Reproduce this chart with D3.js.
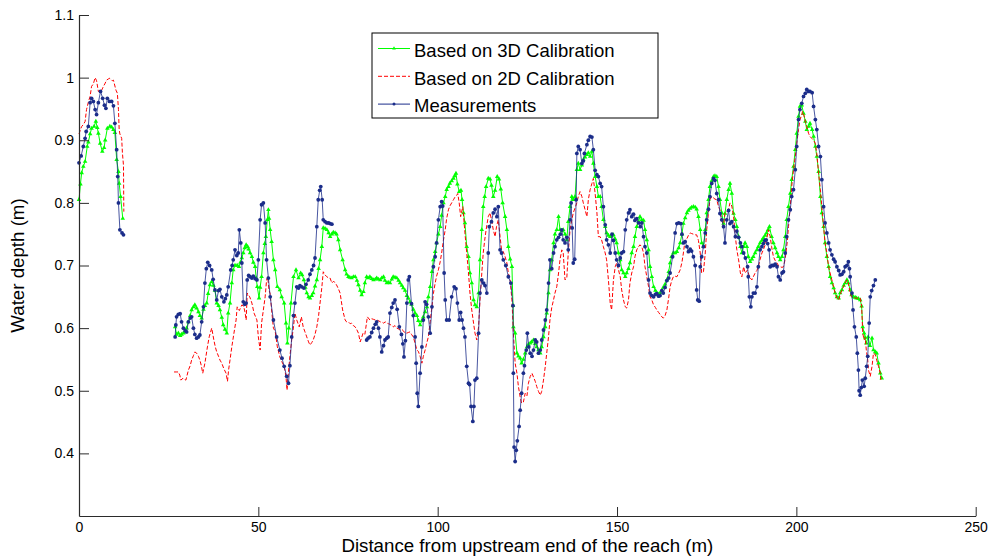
<!DOCTYPE html>
<html>
<head>
<meta charset="utf-8">
<script src="https://cdn.jsdelivr.net/npm/d3@7"></script>
<style>
  html, body { margin: 0; padding: 0; background: #fff; }
  svg { display: block; }
  text { font-family: "Liberation Sans", Arial, Helvetica, sans-serif; fill: #000; }
</style>
</head>
<body>
<svg id="chart" width="988" height="559"></svg>
<script>
// Water depth along the reach: measured profile and two model calibrations.
// A null entry marks a break in the line (no data over that stretch).

const seriesNames = ["Based on 3D Calibration", "Based on 2D Calibration", "Measurements"];
const xTicks = [0, 50, 100, 150, 200, 250];
const yTicks = [0.4, 0.5, 0.6, 0.7, 0.8, 0.9, 1.0, 1.1];
const yTickLabels = ["0.4", "0.5", "0.6", "0.7", "0.8", "0.9", "1", "1.1"];

const measX = [0,0.6,1.2,1.7,2.0,2.6,3.1,3.5,4.0,4.5,4.9,5.4,6.0,6.6,7.1,7.5,7.9,8.5,9.1,9.6,10.0,10.5,10.8,11.0,11.4,12.0,12.4,
null,
26.8,27.0,27.2,27.7,28.2,28.6,29.1,29.6,30.0,30.5,31.0,31.4,31.9,32.3,32.8,33.3,33.7,34.2,34.7,35.1,35.5,35.9,36.4,37.0,37.4,37.9,38.4,38.9,39.3,39.8,40.4,40.8,41.2,41.6,42.3,42.7,43.0,43.5,44.0,44.4,44.7,45.1,45.4,45.8,46.2,46.6,46.9,47.3,47.7,48.2,48.6,49.1,49.6,50.0,50.5,50.9,51.4,51.9,52.3,52.8,53.3,54.2,55.1,56.0,56.6,57.2,57.9,58.4,58.8,59.3,59.8,60.2,60.7,61.2,61.6,62.1,62.7,63.3,63.9,64.4,64.9,65.4,65.8,66.3,66.7,67.1,67.4,67.8,68.1,68.6,69.1,69.6,70.0,70.5,
null,
80.2,80.6,81.1,81.6,82.1,82.6,83.0,83.5,83.9,84.4,84.9,85.3,85.8,86.2,86.7,87.2,87.6,88.1,88.7,89.3,89.9,90.3,90.6,91.0,91.4,91.8,92.1,92.7,93.2,93.7,94.0,94.3,94.6,95.1,95.6,96.0,96.5,96.9,97.4,97.9,98.4,98.8,99.3,99.7,100.2,100.7,101.1,101.4,101.8,102.1,102.5,103.2,103.9,104.6,105.1,105.5,106.0,106.4,106.8,107.2,107.6,108.1,108.6,108.9,109.3,109.8,110.1,110.4,110.9,111.4,111.8,112.3,112.8,113.2,113.7,114.1,114.4,115.0,115.5,116.0,116.5,116.9,117.4,117.8,118.3,119.0,119.7,120.4,121.0,121.1,121.3,121.6,121.9,122.2,122.7,123.0,123.4,123.9,124.2,124.7,125.0,125.4,125.8,126.3,126.7,127.2,127.6,128.1,128.6,129.0,129.5,130.0,130.4,130.9,131.3,131.8,132.3,132.7,133.2,133.7,134.2,134.6,135.0,135.5,136.0,136.4,136.9,137.2,137.5,137.8,138.2,138.6,138.8,139.2,139.7,140.2,140.6,140.9,141.6,142.0,142.5,143.0,143.4,143.9,144.4,144.8,145.3,145.7,146.2,146.7,147.1,147.6,148.1,148.6,149.0,149.5,149.9,150.4,150.9,151.3,151.8,152.3,152.7,153.2,153.6,154.1,154.6,155.0,155.5,156.0,156.5,156.9,157.4,157.8,158.3,158.8,159.2,159.7,160.2,160.7,161.1,161.6,162.0,162.5,162.9,163.4,163.9,164.4,164.8,165.5,166.2,166.7,167.2,167.8,168.1,168.5,169.0,169.5,169.9,170.4,170.8,171.3,171.8,172.2,172.5,172.9,173.2,173.6,174.1,174.6,175.0,175.5,175.9,176.4,176.9,177.3,177.8,178.3,178.7,179.2,179.7,180.1,180.6,181.1,181.5,182.0,182.5,183.0,183.4,183.9,184.4,184.8,185.3,185.8,186.4,186.6,186.9,187.3,187.6,188.0,188.5,189.0,189.4,189.9,190.4,190.8,191.2,191.6,192.0,192.4,192.7,193.2,193.6,194.1,194.6,195.0,195.5,196.0,196.4,196.9,197.3,197.8,198.3,198.7,199.2,199.7,200.1,200.6,201.0,201.5,202.0,202.5,202.9,203.4,203.8,204.4,204.8,205.3,205.7,206.2,206.7,207.1,207.6,208.0,208.5,209.0,209.4,209.9,210.4,210.8,211.3,211.8,212.2,212.7,213.2,213.6,214.1,214.5,214.8,215.0,215.5,215.8,216.2,216.7,217.0,217.3,217.5,217.8,218.1,218.4,218.9,219.2,219.6,219.9,220.3,220.6,221.0,221.5,222.0];
const measY = [0.864,0.875,0.89,0.903,0.914,0.922,0.96,0.967,0.962,0.949,0.941,0.96,0.978,0.967,0.956,0.951,0.967,0.962,0.962,0.955,0.927,0.885,0.842,0.80,0.757,0.752,0.749,
null,
0.586,0.605,0.618,0.622,0.623,0.61,0.60,0.596,0.594,0.61,0.616,0.618,0.60,0.59,0.584,0.586,0.589,0.61,0.634,0.672,0.695,0.705,0.70,0.693,0.678,0.661,0.645,0.66,0.662,0.65,0.642,0.647,0.653,0.666,0.693,0.70,0.709,0.725,0.716,0.72,0.757,0.736,0.704,0.642,0.638,0.64,0.677,0.684,0.682,0.68,0.683,0.679,0.677,0.709,0.773,0.797,0.80,0.768,0.709,0.68,0.65,0.613,0.586,0.565,0.552,0.539,0.523,0.512,0.54,0.586,0.62,0.64,0.666,0.664,0.668,0.666,0.664,0.67,0.677,0.686,0.693,0.70,0.712,0.762,0.805,0.82,0.826,0.805,0.773,0.77,0.768,0.768,0.767,0.766,
null,
0.581,0.584,0.586,0.593,0.60,0.606,0.61,0.60,0.586,0.562,0.572,0.581,0.584,0.586,0.624,0.633,0.64,0.645,0.63,0.602,0.59,0.575,0.554,0.58,0.64,0.677,0.682,0.639,0.62,0.586,0.544,0.496,0.475,0.528,0.57,0.613,0.642,0.638,0.618,0.592,0.634,0.698,0.714,0.736,0.773,0.794,0.802,0.795,0.688,0.645,0.613,0.613,0.65,0.666,0.663,0.64,0.613,0.625,0.613,0.60,0.586,0.539,0.512,0.51,0.475,0.451,0.475,0.517,0.52,0.592,0.656,0.677,0.672,0.668,0.656,0.72,0.762,0.77,0.784,0.79,0.778,0.794,0.725,0.72,0.709,0.70,0.682,0.672,0.636,0.528,0.41,0.387,0.405,0.42,0.443,0.469,0.496,0.528,0.54,0.565,0.592,0.57,0.56,0.555,0.565,0.581,0.578,0.56,0.565,0.581,0.597,0.613,0.629,0.672,0.709,0.695,0.72,0.73,0.741,0.745,0.75,0.757,0.741,0.736,0.745,0.725,0.773,0.80,0.76,0.704,0.71,0.805,0.879,0.89,0.885,0.863,0.867,0.879,0.893,0.90,0.906,0.905,0.885,0.852,0.845,0.842,0.831,0.826,0.794,0.765,0.741,0.733,0.72,0.75,0.74,0.72,0.709,0.70,0.712,0.72,0.722,0.757,0.773,0.784,0.789,0.778,0.782,0.772,0.775,0.768,0.762,0.768,0.746,0.73,0.72,0.677,0.656,0.652,0.65,0.654,0.655,0.651,0.652,0.66,0.656,0.665,0.676,0.68,0.688,0.714,0.752,0.767,0.768,0.767,0.75,0.736,0.738,0.73,0.722,0.726,0.723,0.714,0.70,0.661,0.645,0.643,0.698,0.714,0.73,0.752,0.773,0.79,0.81,0.831,0.839,0.836,0.815,0.805,0.783,0.773,0.762,0.736,0.773,0.788,0.767,0.77,0.762,0.746,0.755,0.745,0.736,0.73,0.72,0.712,0.698,0.682,0.65,0.634,0.65,0.656,0.656,0.666,0.698,0.725,0.73,0.735,0.74,0.741,0.735,0.725,0.698,0.70,0.70,0.702,0.698,0.682,0.677,0.688,0.69,0.72,0.746,0.773,0.789,0.81,0.821,0.853,0.89,0.933,0.949,0.959,0.97,0.975,0.981,0.978,0.978,0.976,0.954,0.933,0.917,0.89,0.874,0.837,0.794,0.768,0.752,0.736,0.725,0.717,0.71,0.706,0.698,0.692,0.685,0.686,0.69,0.698,0.70,0.706,0.695,0.682,0.656,0.629,0.602,0.586,0.56,0.533,0.50,0.493,0.505,0.517,0.507,0.52,0.539,0.555,0.608,0.65,0.66,0.668,0.677];

const cal3dX = [0,0.4,0.75,1.2,1.7,2.3,2.6,3.1,3.5,4.2,4.7,5.1,5.4,5.9,6.5,7.0,7.3,7.9,8.6,9.1,9.6,10.0,10.5,11.0,11.2,11.6,12.2,
null,
26.8,27.2,27.7,28.2,28.6,29.1,29.6,30.0,30.5,31.0,31.4,31.9,32.3,32.8,33.3,33.7,34.2,34.7,35.1,35.6,36.0,36.5,37.0,37.5,37.9,38.4,38.9,39.3,39.8,40.2,40.7,41.2,41.6,42.1,42.6,43.0,43.5,44.1,44.6,45.0,45.4,45.8,46.2,46.6,47.0,47.3,47.7,48.2,48.6,49.1,49.4,49.7,50.2,50.5,50.9,51.4,51.8,52.1,52.5,52.8,53.0,53.3,53.7,54.2,54.7,55.3,56.0,56.5,57.2,57.7,58.1,58.5,59.1,59.8,60.5,61.2,61.8,62.2,62.7,63.1,63.5,64.0,64.4,64.9,65.3,65.8,66.3,66.8,67.2,67.7,68.1,68.6,69.1,69.6,70.0,70.5,70.9,71.4,71.8,72.3,72.8,73.5,74.2,74.6,75.1,75.5,76.0,76.5,77.0,77.5,77.9,78.4,78.8,79.3,79.7,80.2,80.6,81.1,81.6,82.1,82.6,83.0,83.5,84.0,84.4,84.9,85.3,85.8,86.2,86.7,87.2,87.6,88.1,88.6,89.1,89.5,90.0,90.4,90.9,91.4,91.8,92.3,92.7,93.2,93.7,94.2,94.6,95.1,95.6,96.0,96.5,97.0,97.4,97.9,98.4,98.8,99.3,99.7,100.2,100.7,101.1,101.6,102.1,102.5,103.0,103.4,103.9,104.4,104.7,105.1,105.5,106.0,106.5,106.8,107.2,107.6,108.1,108.6,109.0,109.5,110.0,110.4,110.9,111.4,111.8,112.3,112.7,113.1,113.5,114.1,114.6,115.0,115.5,116.0,116.6,117.1,117.6,118.1,118.8,119.3,119.7,120.2,120.7,121.0,121.1,121.6,122.1,122.5,123.0,123.4,123.9,124.4,124.9,125.3,125.8,126.2,126.7,127.2,127.6,128.1,128.6,129.0,129.5,130.0,130.4,130.9,131.3,131.8,132.3,132.7,133.2,133.7,134.1,134.6,135.0,135.5,136.0,136.4,136.9,137.4,137.8,138.3,138.8,139.2,139.7,140.2,140.6,141.1,141.6,142.0,142.5,143.0,143.4,143.9,144.4,144.8,145.3,145.7,146.2,146.7,147.1,147.6,148.1,148.5,149.0,149.5,149.9,150.4,150.9,151.3,151.8,152.3,152.7,153.2,153.6,154.1,154.6,155.0,155.5,156.0,156.4,156.9,157.4,157.8,158.3,158.8,159.2,159.7,160.2,160.7,161.1,161.6,162.0,162.5,162.9,163.4,163.9,164.4,164.8,165.2,165.7,166.2,166.7,167.2,167.6,168.1,168.5,169.0,169.5,169.9,170.4,170.8,171.3,171.8,172.2,172.7,173.2,173.6,174.1,174.6,175.0,175.5,175.9,176.4,176.9,177.3,177.8,178.3,178.7,179.2,179.7,180.1,180.6,181.1,181.5,182.0,182.5,183.0,183.4,183.9,184.4,184.8,185.3,185.7,186.2,186.6,187.1,187.6,188.0,188.5,189.0,189.4,189.9,190.4,190.8,191.3,191.7,192.1,192.5,193.1,193.6,194.1,194.6,195.0,195.5,196.0,196.4,196.9,197.3,197.8,198.3,198.7,199.2,199.7,200.1,200.6,201.0,201.5,202.0,202.5,202.9,203.4,203.8,204.4,204.8,205.3,205.7,206.2,206.7,207.1,207.6,208.0,208.5,209.0,209.4,209.9,210.4,210.8,211.3,211.8,212.2,212.7,213.2,213.6,214.1,214.5,215.0,215.4,215.9,216.4,216.8,217.3,217.8,218.2,218.5,218.9,219.2,219.5,220.0,220.5,221.1,221.5,222.0,222.4,222.9,223.4,223.8];
const cal3dY = [0.805,0.83,0.848,0.858,0.866,0.89,0.897,0.91,0.919,0.922,0.93,0.92,0.911,0.895,0.882,0.888,0.90,0.919,0.922,0.921,0.917,0.912,0.869,0.85,0.831,0.81,0.775,
null,
0.602,0.59,0.592,0.588,0.59,0.592,0.594,0.60,0.61,0.62,0.629,0.634,0.637,0.632,0.626,0.62,0.616,0.63,0.636,0.64,0.655,0.669,0.674,0.668,0.66,0.64,0.636,0.629,0.617,0.605,0.598,0.592,0.624,0.64,0.672,0.693,0.70,0.70,0.698,0.705,0.712,0.72,0.728,0.733,0.73,0.726,0.72,0.714,0.705,0.698,0.68,0.666,0.648,0.665,0.682,0.72,0.735,0.746,0.773,0.789,0.775,0.757,0.738,0.709,0.693,0.666,0.661,0.65,0.64,0.608,0.576,0.60,0.64,0.682,0.693,0.68,0.688,0.685,0.677,0.665,0.656,0.65,0.648,0.652,0.656,0.667,0.677,0.695,0.709,0.73,0.76,0.759,0.757,0.752,0.746,0.75,0.753,0.752,0.75,0.741,0.725,0.709,0.693,0.686,0.682,0.681,0.68,0.682,0.682,0.676,0.669,0.66,0.653,0.658,0.672,0.682,0.68,0.682,0.679,0.677,0.678,0.68,0.678,0.677,0.68,0.682,0.676,0.672,0.673,0.672,0.678,0.682,0.681,0.68,0.676,0.672,0.668,0.664,0.66,0.652,0.648,0.642,0.638,0.63,0.624,0.62,0.612,0.605,0.612,0.618,0.626,0.634,0.65,0.666,0.69,0.709,0.722,0.736,0.75,0.762,0.78,0.80,0.81,0.821,0.826,0.831,0.835,0.839,0.843,0.847,0.83,0.818,0.82,0.805,0.784,0.768,0.73,0.714,0.688,0.672,0.645,0.637,0.634,0.656,0.709,0.757,0.794,0.81,0.826,0.839,0.838,0.828,0.81,0.82,0.842,0.838,0.822,0.80,0.778,0.757,0.73,0.71,0.698,0.636,0.602,0.592,0.56,0.555,0.552,0.544,0.55,0.56,0.57,0.574,0.576,0.578,0.581,0.575,0.57,0.565,0.56,0.57,0.586,0.602,0.624,0.656,0.693,0.709,0.736,0.75,0.757,0.778,0.757,0.755,0.757,0.75,0.741,0.77,0.794,0.81,0.805,0.81,0.853,0.863,0.853,0.86,0.869,0.873,0.877,0.88,0.874,0.882,0.863,0.842,0.826,0.81,0.81,0.794,0.773,0.762,0.752,0.748,0.746,0.748,0.749,0.742,0.736,0.72,0.709,0.693,0.688,0.682,0.688,0.695,0.704,0.72,0.73,0.746,0.762,0.77,0.778,0.773,0.772,0.757,0.741,0.725,0.698,0.682,0.666,0.66,0.656,0.654,0.656,0.66,0.665,0.67,0.677,0.69,0.704,0.714,0.72,0.72,0.722,0.728,0.736,0.75,0.767,0.776,0.784,0.788,0.791,0.793,0.794,0.793,0.79,0.778,0.757,0.736,0.73,0.757,0.784,0.805,0.826,0.835,0.842,0.843,0.842,0.826,0.805,0.784,0.767,0.783,0.805,0.821,0.831,0.815,0.783,0.773,0.762,0.746,0.73,0.72,0.73,0.736,0.73,0.714,0.706,0.71,0.714,0.72,0.725,0.73,0.736,0.74,0.744,0.748,0.752,0.757,0.762,0.746,0.736,0.728,0.72,0.714,0.709,0.714,0.725,0.746,0.773,0.794,0.815,0.837,0.858,0.885,0.911,0.938,0.954,0.956,0.943,0.93,0.917,0.922,0.927,0.917,0.906,0.89,0.874,0.85,0.81,0.784,0.762,0.736,0.714,0.698,0.682,0.672,0.664,0.656,0.65,0.648,0.656,0.661,0.668,0.672,0.677,0.672,0.661,0.653,0.65,0.649,0.648,0.647,0.645,0.635,0.602,0.592,0.585,0.576,0.586,0.572,0.584,0.565,0.562,0.56,0.544,0.528,0.52];

const cal2dX = [0,0.4,0.75,1.2,1.7,2.1,2.7,3.1,3.5,4.0,4.5,4.9,5.4,5.8,6.1,6.5,6.8,7.2,7.7,8.2,8.6,9.3,9.6,10.3,10.7,11.0,11.2,11.4,11.9,12.1,12.4,12.5,
null,
26.5,27.1,27.7,28.1,28.4,29.0,29.4,29.8,30.5,31.0,31.4,31.9,32.3,32.8,33.3,33.7,34.1,34.5,35.1,35.8,36.3,37.0,37.6,38.0,38.4,38.9,39.3,39.8,40.4,41.0,41.4,41.7,42.1,42.6,43.2,43.8,44.1,44.7,45.4,45.9,46.3,46.6,46.9,47.6,48.2,48.8,49.6,50.0,50.5,50.9,51.4,51.9,52.3,52.6,53.0,53.3,53.7,54.2,54.7,55.3,56.0,56.5,57.2,57.7,58.0,58.4,58.8,59.3,59.8,60.2,60.7,61.4,62.0,62.5,63.0,63.5,64.0,64.4,64.9,65.3,65.8,66.3,66.8,67.2,67.7,68.1,68.6,69.1,69.6,70.0,70.5,71.0,71.4,71.8,72.3,72.8,73.5,74.2,74.6,75.1,75.6,76.0,76.5,77.0,77.5,77.9,78.4,78.8,79.2,79.7,80.4,81.1,81.6,82.1,82.6,83.0,83.5,84.0,84.4,84.9,85.4,85.8,86.3,86.7,87.2,87.6,88.1,88.6,89.0,89.5,90.0,90.4,90.9,91.4,91.8,92.3,92.7,93.2,93.7,94.2,94.6,95.1,95.6,96.0,96.5,96.9,97.4,97.9,98.4,98.8,99.3,99.7,100.2,100.7,101.1,101.6,102.1,102.5,103.0,103.4,103.9,104.4,104.9,105.3,105.6,106.0,106.4,107.0,107.6,108.1,108.6,109.0,109.5,110.0,110.4,110.9,111.4,111.8,112.3,112.7,113.1,113.5,114.1,114.6,115.0,115.5,116.0,116.4,116.9,117.4,117.8,118.3,118.8,119.3,119.7,120.2,120.7,121.1,121.6,122.1,122.5,123.0,123.4,123.9,124.4,124.9,125.3,125.8,126.3,126.7,127.2,127.6,128.1,128.6,129.0,129.5,130.0,130.4,130.9,131.3,131.8,132.3,132.7,133.2,133.7,134.1,134.6,135.0,135.5,136.0,136.4,136.9,137.4,137.8,138.3,138.8,139.2,139.7,140.2,140.6,141.1,141.6,142.0,142.5,143.0,143.4,143.9,144.4,144.8,145.3,145.7,146.2,146.7,147.1,147.6,148.1,148.5,149.0,149.5,149.9,150.4,150.9,151.3,151.8,152.3,152.7,153.2,153.6,154.1,154.6,155.0,155.5,156.0,156.4,156.9,157.4,157.8,158.3,158.8,159.2,159.7,160.2,160.7,161.1,161.6,162.0,162.5,162.9,163.4,163.9,164.4,164.8,165.2,165.7,166.2,166.7,167.2,167.6,168.1,168.5,169.0,169.5,169.9,170.4,170.8,171.3,171.8,172.2,172.7,173.2,173.6,174.1,174.6,175.0,175.5,175.9,176.4,176.9,177.3,177.8,178.3,178.7,179.2,179.7,180.1,180.6,181.1,181.5,182.0,182.5,183.0,183.4,183.9,184.4,184.8,185.3,185.7,186.4,186.9,187.6,188.0,188.5,189.0,189.4,189.9,190.4,190.8,191.3,191.7,192.2,192.7,193.1,193.6,194.1,194.6,195.0,195.5,196.0,196.4,196.8,197.1,197.5,197.8,198.3,198.7,199.2,199.7,200.1,200.6,201.0,201.5,201.7,202.1,202.5,202.9,203.4,203.8,204.3,204.8,205.3,205.7,206.2,206.7,207.1,207.6,208.0,208.5,209.0,209.4,209.9,210.4,210.8,211.3,211.8,212.2,212.7,213.2,213.6,214.1,214.5,215.0,215.4,216.0,216.4,217.1,217.8,218.2,218.5,218.9,219.2,219.5,219.9,220.1,220.6,221.1,221.5,222.0,222.4,222.9,223.4,223.6];
const cal2dY = [0.91,0.917,0.922,0.925,0.93,0.949,0.963,0.97,0.986,0.99,1.0,0.995,0.978,0.976,0.978,0.982,0.986,0.99,0.996,0.998,0.999,0.995,0.996,0.98,0.975,0.949,0.917,0.91,0.903,0.88,0.86,0.786,
null,
0.53,0.53,0.53,0.525,0.517,0.52,0.518,0.517,0.533,0.54,0.549,0.556,0.562,0.56,0.555,0.549,0.54,0.528,0.544,0.57,0.586,0.60,0.581,0.57,0.562,0.555,0.549,0.544,0.535,0.528,0.515,0.533,0.549,0.57,0.592,0.613,0.634,0.628,0.637,0.635,0.625,0.613,0.656,0.65,0.64,0.624,0.613,0.586,0.565,0.608,0.629,0.65,0.677,0.682,0.66,0.655,0.629,0.60,0.595,0.57,0.554,0.547,0.539,0.523,0.501,0.53,0.555,0.581,0.602,0.624,0.613,0.602,0.618,0.602,0.594,0.586,0.578,0.573,0.577,0.581,0.59,0.602,0.62,0.64,0.665,0.69,0.685,0.682,0.68,0.68,0.672,0.675,0.672,0.669,0.663,0.656,0.629,0.613,0.61,0.61,0.607,0.608,0.604,0.602,0.597,0.592,0.578,0.585,0.592,0.59,0.618,0.613,0.615,0.614,0.613,0.613,0.612,0.61,0.61,0.608,0.61,0.608,0.607,0.606,0.604,0.602,0.604,0.60,0.599,0.597,0.598,0.596,0.592,0.592,0.593,0.594,0.59,0.586,0.576,0.565,0.563,0.555,0.544,0.555,0.565,0.575,0.586,0.61,0.634,0.655,0.672,0.683,0.693,0.706,0.72,0.74,0.757,0.775,0.789,0.795,0.80,0.805,0.81,0.812,0.815,0.80,0.778,0.794,0.752,0.72,0.688,0.656,0.629,0.608,0.592,0.581,0.602,0.645,0.688,0.72,0.74,0.757,0.778,0.784,0.773,0.757,0.746,0.762,0.773,0.746,0.725,0.722,0.714,0.704,0.688,0.677,0.645,0.592,0.544,0.528,0.507,0.49,0.48,0.482,0.496,0.492,0.512,0.523,0.528,0.522,0.515,0.507,0.499,0.493,0.499,0.517,0.539,0.56,0.586,0.613,0.633,0.645,0.656,0.666,0.688,0.709,0.725,0.72,0.677,0.68,0.72,0.757,0.773,0.784,0.792,0.80,0.81,0.818,0.81,0.80,0.789,0.778,0.805,0.821,0.831,0.839,0.815,0.784,0.746,0.746,0.741,0.73,0.72,0.709,0.677,0.64,0.629,0.677,0.698,0.704,0.693,0.682,0.661,0.645,0.634,0.632,0.645,0.672,0.688,0.698,0.714,0.725,0.73,0.733,0.73,0.72,0.698,0.682,0.666,0.65,0.645,0.637,0.633,0.629,0.625,0.622,0.618,0.616,0.62,0.629,0.648,0.666,0.675,0.682,0.683,0.682,0.688,0.693,0.705,0.72,0.741,0.743,0.748,0.752,0.751,0.75,0.749,0.749,0.74,0.72,0.688,0.69,0.72,0.757,0.784,0.805,0.81,0.808,0.806,0.805,0.794,0.789,0.773,0.762,0.784,0.786,0.79,0.80,0.795,0.778,0.746,0.725,0.709,0.688,0.682,0.698,0.688,0.693,0.682,0.677,0.682,0.688,0.692,0.698,0.71,0.72,0.725,0.733,0.741,0.757,0.746,0.73,0.714,0.708,0.704,0.70,0.698,0.697,0.698,0.708,0.72,0.74,0.762,0.794,0.826,0.853,0.874,0.895,0.917,0.933,0.94,0.946,0.94,0.93,0.922,0.911,0.906,0.903,0.90,0.895,0.879,0.847,0.821,0.794,0.762,0.736,0.72,0.698,0.688,0.677,0.666,0.656,0.648,0.645,0.653,0.661,0.667,0.672,0.677,0.672,0.656,0.65,0.649,0.648,0.648,0.648,0.635,0.592,0.581,0.585,0.565,0.549,0.533,0.523,0.539,0.56,0.558,0.549,0.539,0.528,0.515];

const colors = { cal3d: "#00ff00", cal2d: "#ff0000", meas: "#1b2d8a" };

const svg = d3.select("#chart");
const plot = { left: 79, right: 975.7, top: 15, bottom: 516 };

const x = d3.scaleLinear().domain([0, 250]).range([plot.left, plot.right]);
const y = d3.scaleLinear().domain([0.3, 1.1]).range([plot.bottom, plot.top]);

function pairs(xs, ys) {
  return xs.map((v, i) => ({ x: v, y: ys[i] }));
}
const cal3d = pairs(cal3dX, cal3dY);
const cal2d = pairs(cal2dX, cal2dY);
const meas = pairs(measX, measY);

const line = d3.line()
  .defined(d => d.x !== null && d.y !== null)
  .x(d => x(d.x))
  .y(d => y(d.y));

const g = svg.append("g");

// 3D calibration: solid green line with small triangle markers
g.append("path")
  .attr("d", line(cal3d))
  .attr("fill", "none")
  .attr("stroke", colors.cal3d)
  .attr("stroke-width", 1);
g.append("g").selectAll("path")
  .data(cal3d.filter(d => d.x !== null))
  .join("path")
  .attr("d", d3.symbol(d3.symbolTriangle, 9))
  .attr("transform", d => `translate(${x(d.x)},${y(d.y)})`)
  .attr("fill", colors.cal3d);

// 2D calibration: dashed red line
g.append("path")
  .attr("d", line(cal2d))
  .attr("fill", "none")
  .attr("stroke", colors.cal2d)
  .attr("stroke-width", 1)
  .attr("stroke-dasharray", "4,2");

// Measurements: dark blue line with dot markers
g.append("path")
  .attr("d", line(meas))
  .attr("fill", "none")
  .attr("stroke", colors.meas)
  .attr("stroke-opacity", 0.8)
  .attr("stroke-width", 1);
g.append("g").selectAll("circle")
  .data(meas.filter(d => d.x !== null))
  .join("circle")
  .attr("cx", d => x(d.x))
  .attr("cy", d => y(d.y))
  .attr("r", 1.9)
  .attr("fill", colors.meas);

// Axes (left and bottom only, ticks pointing inward)
const xAxis = d3.axisBottom(x)
  .tickValues(xTicks)
  .tickFormat(d3.format("d"))
  .tickSizeInner(-9)
  .tickSizeOuter(0)
  .tickPadding(6);
const yAxis = d3.axisLeft(y)
  .tickValues(yTicks)
  .tickFormat((d, i) => yTickLabels[i])
  .tickSizeInner(-10)
  .tickSizeOuter(0)
  .tickPadding(5);

const gx = svg.append("g")
  .attr("transform", `translate(0,${plot.bottom})`)
  .call(xAxis);
const gy = svg.append("g")
  .attr("transform", `translate(${plot.left},0)`)
  .call(yAxis);

[gx, gy].forEach(a => {
  a.selectAll(".domain").attr("stroke", "#2b2b2b").attr("stroke-width", 1.2);
  a.selectAll(".tick line").attr("stroke", "#2b2b2b");
  a.selectAll(".tick text")
    .attr("fill", "#000")
    .style("font-family", '"Liberation Sans", Arial, Helvetica, sans-serif')
    .style("font-size", "14px");
});

// Axis titles
svg.append("text")
  .attr("x", (plot.left + plot.right) / 2)
  .attr("y", 551.5)
  .attr("text-anchor", "middle")
  .style("font-size", "18.7px")
  .text("Distance from upstream end of the reach (m)");

svg.append("text")
  .attr("transform", `translate(24,${(plot.top + plot.bottom) / 2}) rotate(-90)`)
  .attr("text-anchor", "middle")
  .style("font-size", "18.7px")
  .text("Water depth (m)");

// Legend
const legend = svg.append("g");
legend.append("rect")
  .attr("x", 372).attr("y", 33)
  .attr("width", 286).attr("height", 85)
  .attr("fill", "#fff")
  .attr("stroke", "#000")
  .attr("stroke-width", 1);

const rows = [
  { name: seriesNames[0], color: colors.cal3d, dash: null, marker: "tri" },
  { name: seriesNames[1], color: colors.cal2d, dash: "4,2", marker: null },
  { name: seriesNames[2], color: colors.meas, dash: null, marker: "dot" }
];
rows.forEach((r, i) => {
  const ly = 48.5 + i * 27.8;
  legend.append("line")
    .attr("x1", 378).attr("x2", 410)
    .attr("y1", ly).attr("y2", ly)
    .attr("stroke", r.color)
    .attr("stroke-width", 1)
    .attr("stroke-dasharray", r.dash);
  if (r.marker === "tri") {
    legend.append("path")
      .attr("d", d3.symbol(d3.symbolTriangle, 6)())
      .attr("transform", `translate(394,${ly})`)
      .attr("fill", r.color);
  } else if (r.marker === "dot") {
    legend.append("circle")
      .attr("cx", 394).attr("cy", ly).attr("r", 1.5)
      .attr("fill", r.color);
  }
  legend.append("text")
    .attr("x", 414)
    .attr("y", ly + 8.3)
    .style("font-size", "18.5px")
    .text(r.name);
});
</script>
</body>
</html>
